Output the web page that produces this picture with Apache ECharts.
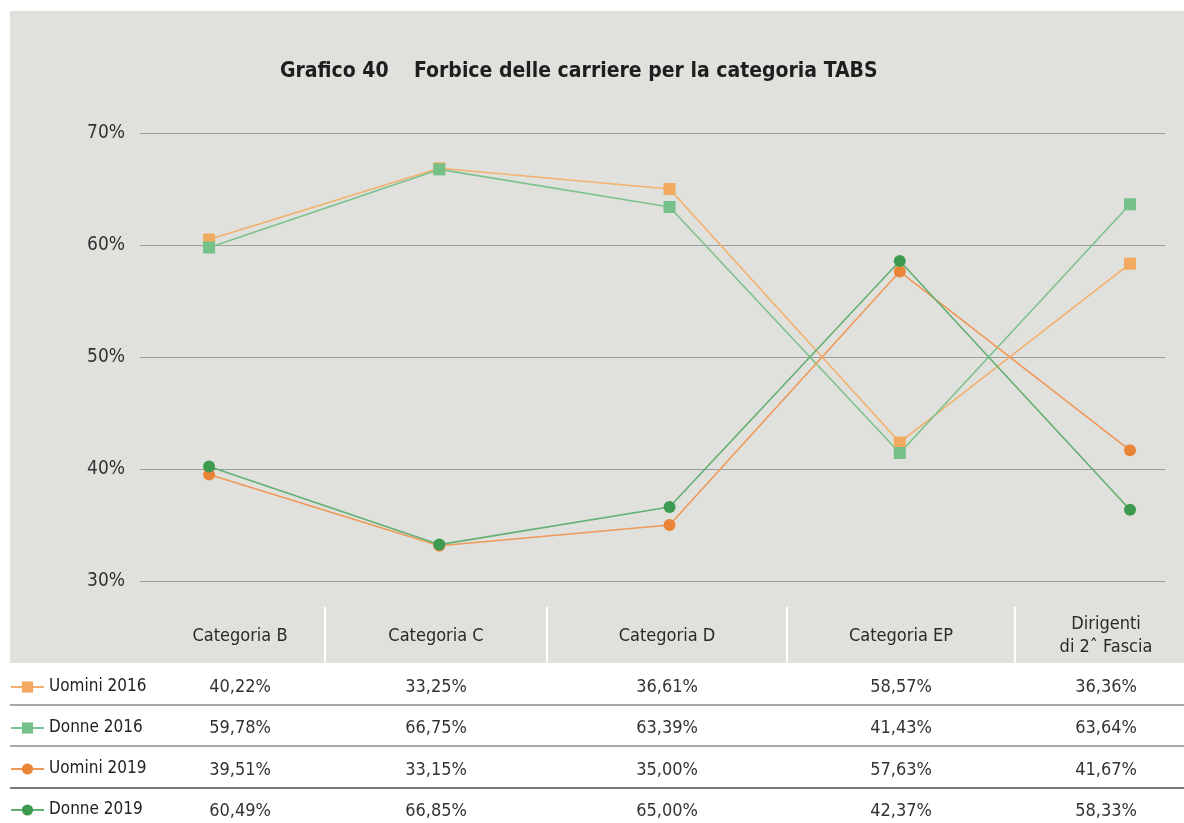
<!DOCTYPE html>
<html lang="it">
<head>
  <meta charset="UTF-8">
  <title>Grafico 40</title>
  <style>
    html, body { margin: 0; padding: 0; background: #fff; }
    #main { width: 1184px; height: 823px; }
  </style>
</head>
<body>
  <div id="main"></div>
  <script src="https://cdn.jsdelivr.net/npm/echarts@6/dist/echarts.min.js"></script>
  <script>
    // dati della tabella, come nell'originale
    const categorie = ['Categoria B', 'Categoria C', 'Categoria D', 'Categoria EP', 'Dirigenti\ndi 2ˆ Fascia'];
    const righe = ['Uomini 2016', 'Donne 2016', 'Uomini 2019', 'Donne 2019'];
    const uomini2016 = [40.22, 33.25, 36.61, 58.57, 36.36];
    const donne2016 = [59.78, 66.75, 63.39, 41.43, 63.64];
    const uomini2019 = [39.51, 33.15, 35.00, 57.63, 41.67];
    const donne2019 = [60.49, 66.85, 65.00, 42.37, 58.33];
    const tabella = [uomini2016, donne2016, uomini2019, donne2019];
    const yTicks = [30, 40, 50, 60, 70];

    // nel grafico originale le serie disegnate non corrispondono alle righe della legenda:
    // il quadrato arancio segue i valori "Donne 2019", il cerchio verde quelli "Uomini 2016"
    const linee = [
      { name: 'Uomini 2016', dati: donne2019, color: '#f2aa60', line: '#f2b06c', symbol: 'rect' },
      { name: 'Donne 2016', dati: donne2016, color: '#76c08a', line: '#7cc28e', symbol: 'rect' },
      { name: 'Uomini 2019', dati: uomini2019, color: '#ea8538', line: '#ee9958', symbol: 'circle' },
      { name: 'Donne 2019', dati: uomini2016, color: '#3d9b4f', line: '#62b073', symbol: 'circle' }
    ];

    const font = "'Liberation Sans Narrow', 'DejaVu Sans Condensed', 'Roboto', sans-serif";
    const colX = [240, 436, 667, 901, 1106];   // centri colonne tabella
    const rowY = [687, 728, 770, 811];
    const fmt = v => v.toFixed(2).replace('.', ',') + '%';

    const graphic = [
      { type: 'rect', z: -10, shape: { x: 10, y: 11, width: 1174, height: 652 }, style: { fill: '#e0e0dc' } },
      { type: 'text', left: 280, top: 61, style: { text: 'Grafico 40', font: 'bold 21px ' + font, fill: '#1e1e1e' } },
      { type: 'text', left: 414, top: 61, style: { text: 'Forbice delle carriere per la categoria TABS', font: 'bold 21px ' + font, fill: '#1e1e1e' } }
    ];
    [325, 547, 787, 1015].forEach(x => {
      graphic.push({ type: 'line', z: -5, shape: { x1: x, y1: 607, x2: x, y2: 663 }, style: { stroke: '#ffffff', lineWidth: 2 } });
    });
    [[705, '#a8a8a8'], [746, '#a8a8a8'], [788, '#7a7a7a']].forEach(([y, c]) => {
      graphic.push({ type: 'line', z: -5, shape: { x1: 10, y1: y, x2: 1184, y2: y }, style: { stroke: c, lineWidth: 2 } });
    });
    categorie.forEach((c, i) => {
      graphic.push({
        type: 'text', x: colX[i], y: 636,
        style: { text: c, font: '18px ' + font, fill: '#2a2a2a', align: 'center', verticalAlign: 'middle', lineHeight: 23 }
      });
    });
    tabella.forEach((riga, r) => {
      riga.forEach((v, i) => {
        graphic.push({
          type: 'text', x: colX[i], y: rowY[r],
          style: { text: fmt(v), font: '18px ' + font, fill: '#333', align: 'center', verticalAlign: 'middle' }
        });
      });
    });

    const myChart = echarts.init(document.getElementById('main'));
    const option = {
      backgroundColor: '#ffffff',
      animation: false,
      textStyle: { fontFamily: font },
      grid: { left: 140, right: 19, top: 133, bottom: 242 },
      xAxis: {
        type: 'value', min: -0.3, max: 4.152,
        show: false
      },
      yAxis: {
        type: 'value', min: yTicks[0], max: yTicks[yTicks.length - 1], interval: 10,
        axisLine: { show: false }, axisTick: { show: false },
        axisLabel: { formatter: '{value}%', fontSize: 19, color: '#333', margin: 15, fontFamily: font },
        splitLine: { lineStyle: { color: '#9c9c9c', width: 1 } }
      },
      legend: {
        orient: 'vertical', left: 10, top: 677, height: 160, padding: 0,
        itemWidth: 33, itemHeight: 14, itemGap: 21,
        data: righe,
        textStyle: { fontSize: 17, color: '#222', lineHeight: 20, fontFamily: font }
      },
      graphic: graphic,
      series: linee.map(l => ({
        name: l.name,
        type: 'line',
        data: l.dati.map((v, i) => [i, v]),
        symbol: l.symbol,
        symbolSize: 12,
        color: l.color,
        lineStyle: { width: 1.6, color: l.line },
        itemStyle: { color: l.color }
      }))
    };
    myChart.setOption(option);
  </script>
</body>
</html>
